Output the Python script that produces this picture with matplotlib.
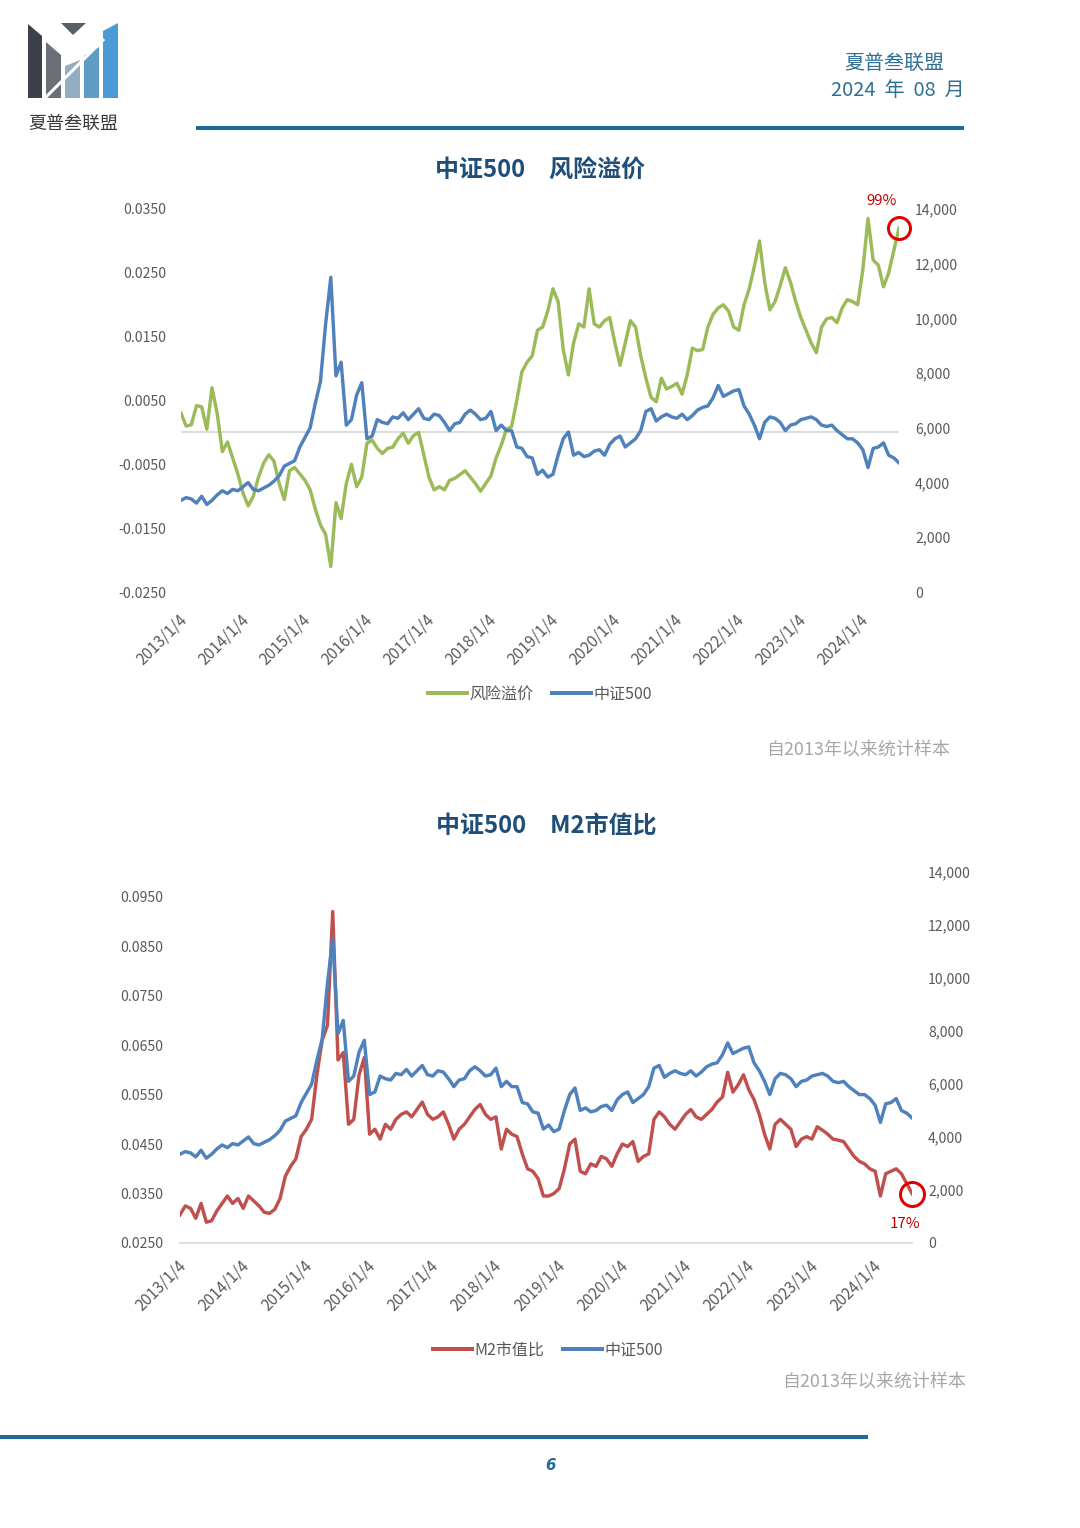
import numpy as np
import matplotlib
matplotlib.use('Agg')
import matplotlib.pyplot as plt
from matplotlib.patches import Polygon
from matplotlib.lines import Line2D
from matplotlib.ticker import FuncFormatter
from matplotlib.transforms import ScaledTranslation

plt.rcParams['font.family'] = ['Noto Sans CJK SC', 'DejaVu Sans']

# ---------------- data (monthly, 2013/01 .. 2024/08) ----------------
year_labels = ['2013/1/4', '2014/1/4', '2015/1/4', '2016/1/4', '2017/1/4', '2018/1/4',
               '2019/1/4', '2020/1/4', '2021/1/4', '2022/1/4', '2023/1/4', '2024/1/4']

risk_premium = [
    0.0030, 0.0010, 0.0012, 0.0042, 0.0040, 0.0005, 0.0070, 0.0030, -0.0030, -0.0015, -0.0040, -0.0065,
    -0.0095, -0.0115, -0.0100, -0.0070, -0.0048, -0.0035, -0.0045, -0.0080, -0.0105, -0.0060, -0.0055, -0.0065,
    -0.0075, -0.0090, -0.0120, -0.0145, -0.0160, -0.0210, -0.0110, -0.0135, -0.0080, -0.0050, -0.0085, -0.0070,
    -0.0017, -0.0012, -0.0025, -0.0033, -0.0025, -0.0023, -0.0010, -0.0001, -0.0017, -0.0005, 0.0000, -0.0035,
    -0.0070, -0.0090, -0.0085, -0.0090, -0.0075, -0.0072, -0.0066, -0.0060, -0.0070, -0.0080, -0.0092, -0.0080,
    -0.0068, -0.0040, -0.0020, 0.0005, 0.0009, 0.0050, 0.0095, 0.0110, 0.0120, 0.0160, 0.0165, 0.0190,
    0.0225, 0.0205, 0.0130, 0.0090, 0.0140, 0.0170, 0.0165, 0.0225, 0.0170, 0.0165, 0.0175, 0.0180,
    0.0140, 0.0105, 0.0140, 0.0175, 0.0165, 0.0120, 0.0085, 0.0055, 0.0048, 0.0085, 0.0068, 0.0072,
    0.0077, 0.0060, 0.0090, 0.0132, 0.0128, 0.0130, 0.0165, 0.0185, 0.0195, 0.0200, 0.0190, 0.0165,
    0.0160, 0.0200, 0.0225, 0.0260, 0.0300, 0.0235, 0.0192, 0.0205, 0.0230, 0.0258, 0.0235, 0.0205,
    0.0180, 0.0160, 0.0140, 0.0125, 0.0165, 0.0178, 0.0180, 0.0172, 0.0195, 0.0208, 0.0205, 0.0200,
    0.0255, 0.0335, 0.0270, 0.0262, 0.0228, 0.0250, 0.0285, 0.0320,
]

csi500 = [
    3350, 3450, 3400, 3250, 3500, 3200, 3350, 3550, 3700, 3600, 3750, 3700,
    3850, 4000, 3750, 3700, 3800, 3900, 4050, 4250, 4600, 4700, 4800, 5300,
    5650, 6000, 6900, 7700, 9800, 11500, 7900, 8400, 6100, 6300, 7200, 7650,
    5600, 5700, 6300, 6200, 6150, 6400, 6350, 6550, 6300, 6500, 6700, 6350,
    6300, 6500, 6450, 6200, 5900, 6150, 6200, 6500, 6650, 6500, 6300, 6350,
    6600, 5900, 6100, 5900, 5900, 5300, 5250, 4950, 4900, 4300, 4450, 4200,
    4300, 5000, 5600, 5850, 5000, 5100, 4950, 5000, 5150, 5200, 5000, 5400,
    5600, 5700, 5300, 5450, 5600, 5900, 6600, 6700, 6250, 6400, 6500, 6400,
    6350, 6500, 6300, 6450, 6650, 6750, 6800, 7100, 7550, 7150, 7250, 7350,
    7400, 6800, 6500, 6100, 5600, 6200, 6400, 6350, 6200, 5900, 6100, 6150,
    6300, 6350, 6400, 6300, 6100, 6050, 6100, 5900, 5750, 5600, 5600, 5450,
    5200, 4550, 5250, 5300, 5450, 5000, 4900, 4720,
]

m2_ratio = [
    0.0307, 0.0325, 0.0320, 0.0300, 0.0330, 0.0292, 0.0295, 0.0315, 0.0330, 0.0345, 0.0330, 0.0340,
    0.0320, 0.0345, 0.0335, 0.0325, 0.0312, 0.0310, 0.0318, 0.0340, 0.0385, 0.0405, 0.0420, 0.0465,
    0.0480, 0.0500, 0.0590, 0.0660, 0.0690, 0.0920, 0.0620, 0.0635, 0.0490, 0.0500, 0.0590, 0.0625,
    0.0470, 0.0480, 0.0460, 0.0490, 0.0480, 0.0500, 0.0510, 0.0515, 0.0505, 0.0520, 0.0535, 0.0510,
    0.0500, 0.0505, 0.0515, 0.0490, 0.0460, 0.0480, 0.0490, 0.0505, 0.0520, 0.0530, 0.0510, 0.0500,
    0.0505, 0.0440, 0.0480, 0.0470, 0.0465, 0.0430, 0.0400, 0.0395, 0.0380, 0.0345, 0.0345, 0.0350,
    0.0360, 0.0400, 0.0450, 0.0460, 0.0395, 0.0390, 0.0410, 0.0405, 0.0425, 0.0420, 0.0405, 0.0430,
    0.0450, 0.0445, 0.0455, 0.0415, 0.0425, 0.0430, 0.0500, 0.0515, 0.0505, 0.0490, 0.0480, 0.0495,
    0.0510, 0.0520, 0.0505, 0.0500, 0.0510, 0.0520, 0.0535, 0.0545, 0.0595, 0.0555, 0.0570, 0.0590,
    0.0560, 0.0540, 0.0510, 0.0470, 0.0440, 0.0490, 0.0500, 0.0490, 0.0480, 0.0445, 0.0460, 0.0465,
    0.0460, 0.0485, 0.0478, 0.0470, 0.0460, 0.0458, 0.0455, 0.0440, 0.0425, 0.0415, 0.0410, 0.0400,
    0.0395, 0.0345, 0.0390, 0.0395, 0.0400, 0.0390, 0.0370, 0.0350,
]

rp_label = '99%'
m2_label = '17%'

# ---------------- styling ----------------
W, H = 1080, 1528
GREEN = '#9bbb59'
BLUE = '#4f81bd'
RED = '#c0504d'
TICK = '#595959'
TITLE = '#1f4e79'
LINEBLUE = '#1f6a96'
HEAD = '#2e6f94'
NOTE = '#a6a6a6'
CIRCLE = '#e00000'
PX = 0.72  # points per pixel at dpi 100
LW = 3.4 * PX

fig = plt.figure(figsize=(W / 100, H / 100), dpi=100)
fig.patch.set_facecolor('white')

# page-level drawing layer (pixel coordinates, y downward)
page = fig.add_axes([0, 0, 1, 1])
page.set_xlim(0, W)
page.set_ylim(H, 0)
page.axis('off')

# logo
page.add_patch(Polygon([(28, 24), (42, 36), (42, 98), (28, 98)], closed=True, color='#3c404a', lw=0))
page.add_patch(Polygon([(46, 42), (61, 55), (61, 98), (46, 98)], closed=True, color='#6b6f77', lw=0))
page.add_patch(Polygon([(65, 66), (80, 60), (80, 98), (65, 98)], closed=True, color='#93aec4', lw=0))
page.add_patch(Polygon([(84, 56), (99, 47), (99, 98), (84, 98)], closed=True, color='#5e9cc6', lw=0))
page.add_patch(Polygon([(103, 31), (118, 23), (118, 98), (103, 98)], closed=True, color='#4b9ad5', lw=0))
page.add_patch(Polygon([(61, 23), (86, 23), (73, 35)], closed=True, color='#5a5e66', lw=0))
page.plot([42, 104], [101, 39], color='white', lw=3 * PX, solid_capstyle='butt')
page.text(73, 124, '夏普叁联盟', ha='center', va='center', fontsize=18 * PX, color='#3a3a3a')

# header right
page.text(894, 63, '夏普叁联盟', ha='center', va='center', fontsize=20 * PX, color=HEAD)
page.text(898, 90, '2024  年  08  月', ha='center', va='center', fontsize=20 * PX, color=HEAD)
page.plot([196, 964], [128, 128], color=LINEBLUE, lw=4 * PX, solid_capstyle='butt')

# bottom line and page number
page.plot([0, 868], [1437, 1437], color=LINEBLUE, lw=4 * PX, solid_capstyle='butt')
page.text(551, 1466, '6', ha='center', va='center', fontsize=15 * PX, color=LINEBLUE,
          fontweight='bold', style='italic', family=['DejaVu Sans'])

# titles
page.text(540, 171, '中证500　风险溢价', ha='center', va='center', fontsize=24 * PX,
          fontweight='bold', color=TITLE)
page.text(546, 826, '中证500　M2市值比', ha='center', va='center', fontsize=24 * PX,
          fontweight='bold', color=TITLE)

# notes
page.text(950, 750, '自2013年以来统计样本', ha='right', va='center', fontsize=18 * PX,
          color=NOTE, style='italic')
page.text(966, 1382, '自2013年以来统计样本', ha='right', va='center', fontsize=18 * PX,
          color=NOTE, style='italic')


def px_axes(x0, y0, x1, y1):
    return fig.add_axes([x0 / W, 1 - y1 / H, (x1 - x0) / W, (y1 - y0) / H])


def style_axes(ax, left_pad):
    for s in ax.spines.values():
        s.set_visible(False)
    ax.set_facecolor('none')
    ax.tick_params(axis='y', length=0, pad=left_pad * PX, labelsize=14 * PX, labelcolor=TICK)
    ax.tick_params(axis='x', length=0)


def date_labels(ax, pad):
    ax.set_xticks(year_pos)
    ax.set_xticklabels(year_labels, rotation=45, ha='right', va='top', rotation_mode='anchor',
                       fontsize=15.5 * PX, color=TICK)
    ax.tick_params(axis='x', pad=pad * PX)
    shift = ScaledTranslation(-3 / 100, 0, fig.dpi_scale_trans)
    for lab in ax.get_xticklabels():
        lab.set_transform(lab.get_transform() + shift)


x = np.arange(len(csi500))
year_pos = np.arange(0, len(csi500), 12)

# ================= Chart 1 =================
ax1 = px_axes(181, 209, 899, 592)
ax1.plot(x, risk_premium, color=GREEN, lw=LW, zorder=3)
ax1.axhline(0, color='#d9d9d9', lw=1.3, zorder=1)
ax1.set_xlim(0, len(x) - 1)
ax1.set_ylim(-0.025, 0.035)
ax1.set_yticks(np.arange(-0.025, 0.0351, 0.01))
ax1.yaxis.set_major_formatter(FuncFormatter(lambda v, p: f'{v:.4f}'))
style_axes(ax1, 15)
date_labels(ax1, 19)

ax1b = ax1.twinx()
ax1b.plot(x, csi500, color=BLUE, lw=LW, zorder=3)
ax1b.set_ylim(0, 14000)
ax1b.set_yticks(np.arange(0, 14001, 2000))
ax1b.yaxis.set_major_formatter(FuncFormatter(lambda v, p: f'{v:,.0f}'))
style_axes(ax1b, 16)
ax1b.set_zorder(ax1.get_zorder() + 1)
ax1b.plot(x[-1], risk_premium[-1], 'o', mfc='none', mec=CIRCLE, ms=22 * PX, mew=3 * PX, zorder=5,
          transform=ax1.transData, clip_on=False)
ax1b.annotate(rp_label, (x[-1], risk_premium[-1]), xycoords=ax1.transData, xytext=(-17 * PX, 27 * PX),
              textcoords='offset points', ha='center', va='center', fontsize=15 * PX, color='#c00000',
              annotation_clip=False)

fig.legend(handles=[Line2D([], [], color=GREEN, lw=4 * PX), Line2D([], [], color=BLUE, lw=4 * PX)],
           labels=['风险溢价', '中证500'], loc='center', bbox_to_anchor=(540 / W, 1 - 694 / H),
           ncol=2, frameon=False, fontsize=16 * PX, handlelength=2.4, handletextpad=0.15,
           columnspacing=1.2, labelcolor=TICK)

# ================= Chart 2 =================
ax2 = px_axes(180, 872, 912, 1243)
ax2.plot(x, m2_ratio, color=RED, lw=LW, zorder=3)
ax2.set_xlim(0, len(x) - 1)
ax2.set_ylim(0.025, 0.1)
ax2.set_yticks(np.arange(0.025, 0.0951, 0.01))
ax2.yaxis.set_major_formatter(FuncFormatter(lambda v, p: f'{v:.4f}'))
style_axes(ax2, 17)
ax2.spines['bottom'].set_visible(True)
ax2.spines['bottom'].set_color('#d9d9d9')
ax2.spines['bottom'].set_linewidth(1.3)
date_labels(ax2, 14)

ax2b = ax2.twinx()
ax2b.plot(x, csi500, color=BLUE, lw=LW, zorder=3)
ax2b.set_ylim(0, 14000)
ax2b.set_yticks(np.arange(0, 14001, 2000))
ax2b.yaxis.set_major_formatter(FuncFormatter(lambda v, p: f'{v:,.0f}'))
style_axes(ax2b, 16)
ax2b.set_zorder(ax2.get_zorder() + 1)
ax2b.plot(x[-1], m2_ratio[-1], 'o', mfc='none', mec=CIRCLE, ms=24 * PX, mew=3 * PX, zorder=5,
          transform=ax2.transData, clip_on=False)
ax2b.annotate(m2_label, (x[-1], m2_ratio[-1]), xycoords=ax2.transData, xytext=(-7 * PX, -30 * PX),
              textcoords='offset points', ha='center', va='center', fontsize=15 * PX, color='#c00000',
              annotation_clip=False)

fig.legend(handles=[Line2D([], [], color=RED, lw=4 * PX), Line2D([], [], color=BLUE, lw=4 * PX)],
           labels=['M2市值比', '中证500'], loc='center', bbox_to_anchor=(548 / W, 1 - 1350 / H),
           ncol=2, frameon=False, fontsize=16 * PX, handlelength=2.4, handletextpad=0.15,
           columnspacing=1.2, labelcolor=TICK)

fig.savefig('out.png', dpi=100)
